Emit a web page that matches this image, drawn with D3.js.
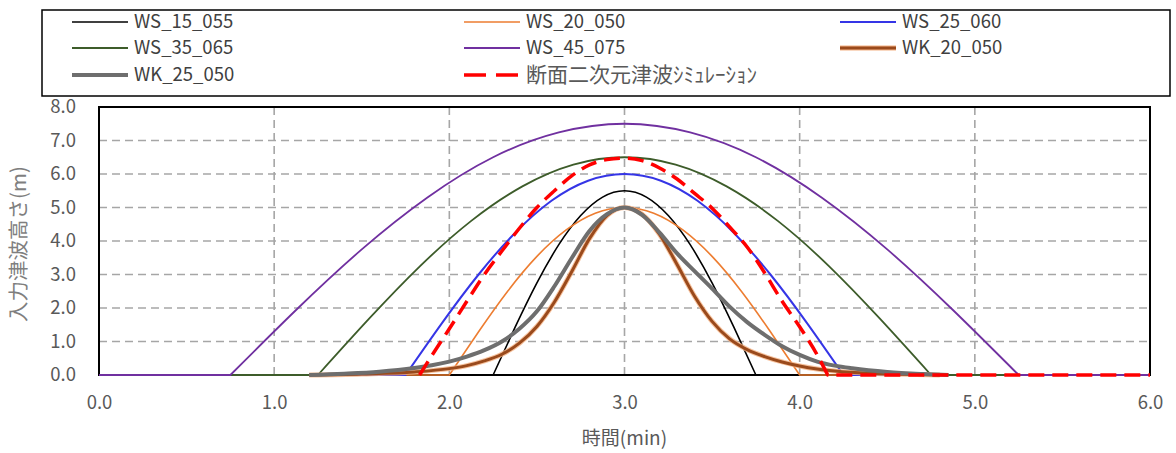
<!DOCTYPE html>
<html><head><meta charset="utf-8">
<script src="https://cdn.jsdelivr.net/npm/d3@7"></script>
<style>body{margin:0;background:#fff} svg{display:block}</style>
</head><body><svg id="c" width="1176" height="453"></svg>
<script>
// ---------- data ----------
const xTicks = [0, 1, 2, 3, 4, 5, 6];
const yTicks = [0, 1, 2, 3, 4, 5, 6, 7, 8];
const xTitle = "時間(min)";
const yTitle = "入力津波高さ(m)";
const seriesNames = ["WS_15_055", "WS_20_050", "WS_25_060", "WS_35_065", "WS_45_075", "WK_20_050", "WK_25_050", "断面二次元津波ｼﾐｭﾚｰｼｮﾝ"];

const ws15Time = [0, 2.25, 2.375, 2.5, 2.625, 2.75, 2.875, 3.0, 3.125, 3.25, 3.375, 3.5, 3.625, 3.75, 6.0];
const ws15Val  = [0, 0, 1.42, 2.75, 3.89, 4.76, 5.31, 5.5, 5.31, 4.76, 3.89, 2.75, 1.42, 0, 0];

const ws20Time = [0, 2.0, 2.167, 2.333, 2.5, 2.667, 2.833, 3.0, 3.167, 3.333, 3.5, 3.667, 3.833, 4.0, 6.0];
const ws20Val  = [0, 0, 1.29, 2.5, 3.54, 4.33, 4.83, 5.0, 4.83, 4.33, 3.54, 2.5, 1.29, 0, 0];

const ws25Time = [0, 1.75, 1.958, 2.167, 2.375, 2.583, 2.792, 3.0, 3.208, 3.417, 3.625, 3.833, 4.042, 4.25, 6.0];
const ws25Val  = [0, 0, 1.55, 3.0, 4.24, 5.2, 5.8, 6.0, 5.8, 5.2, 4.24, 3.0, 1.55, 0, 0];

const ws35Time = [0, 1.25, 1.542, 1.833, 2.125, 2.417, 2.708, 3.0, 3.292, 3.583, 3.875, 4.167, 4.458, 4.75, 6.0];
const ws35Val  = [0, 0, 1.68, 3.25, 4.6, 5.63, 6.28, 6.5, 6.28, 5.63, 4.6, 3.25, 1.68, 0, 0];

const ws45Time = [0, 0.75, 1.125, 1.5, 1.875, 2.25, 2.625, 3.0, 3.375, 3.75, 4.125, 4.5, 4.875, 5.25, 6.0];
const ws45Val  = [0, 0, 1.94, 3.75, 5.3, 6.5, 7.24, 7.5, 7.24, 6.5, 5.3, 3.75, 1.94, 0, 0];

const wk20Time = [1.2, 1.5, 1.8, 2.0, 2.1, 2.2, 2.3, 2.4, 2.5, 2.6, 2.7, 2.8, 2.9, 3.0, 3.1, 3.2, 3.3, 3.4, 3.5, 3.6, 3.7, 3.8, 3.9, 4.0, 4.1, 4.2, 4.4, 4.6, 4.8];
const wk20Val  = [0.0, 0.03, 0.09, 0.19, 0.28, 0.42, 0.62, 0.95, 1.45, 2.18, 3.1, 4.07, 4.76, 5.0, 4.8, 4.2, 3.3, 2.35, 1.6, 1.08, 0.76, 0.55, 0.39, 0.27, 0.18, 0.12, 0.05, 0.02, 0.0];

const wk25Time = [1.2, 1.4, 1.6, 1.8, 1.9, 2.0, 2.1, 2.2, 2.3, 2.4, 2.5, 2.6, 2.7, 2.8, 2.9, 3.0, 3.1, 3.2, 3.3, 3.4, 3.5, 3.6, 3.7, 3.8, 3.9, 4.0, 4.1, 4.2, 4.3, 4.5, 4.7, 4.85];
const wk25Val  = [0.0, 0.04, 0.1, 0.21, 0.29, 0.4, 0.55, 0.74, 1.0, 1.38, 1.9, 2.65, 3.5, 4.3, 4.8, 5.0, 4.78, 4.25, 3.63, 3.1, 2.58, 2.04, 1.58, 1.2, 0.86, 0.6, 0.4, 0.28, 0.2, 0.09, 0.03, 0.0];

const simTime = [1.83, 1.9, 2.0, 2.1, 2.2, 2.3, 2.4, 2.5, 2.6, 2.7, 2.8, 2.9, 3.0, 3.1, 3.2, 3.3, 3.4, 3.5, 3.6, 3.7, 3.8, 3.9, 4.0, 4.1, 4.16, 6.0];
const simVal  = [0, 0.58, 1.38, 2.2, 3.0, 3.7, 4.38, 5.0, 5.5, 5.95, 6.27, 6.43, 6.47, 6.4, 6.18, 5.85, 5.42, 4.98, 4.42, 3.82, 3.05, 2.2, 1.44, 0.6, 0, 0];

// ---------- setup ----------
const FONT = "'Noto Sans CJK JP','Open Sans',sans-serif";
const svg = d3.select("#c");
const x = d3.scaleLinear().domain([0, 6]).range([99, 1150]);
const y = d3.scaleLinear().domain([0, 8]).range([375, 107]);

const series = [
  {name: seriesNames[0], t: ws15Time, v: ws15Val, color: "#000000", w: 1.6, curve: d3.curveNatural},
  {name: seriesNames[1], t: ws20Time, v: ws20Val, color: "#ED7D31", w: 1.6, curve: d3.curveNatural},
  {name: seriesNames[2], t: ws25Time, v: ws25Val, color: "#3535E6", w: 2, curve: d3.curveNatural},
  {name: seriesNames[3], t: ws35Time, v: ws35Val, color: "#3D5C2A", w: 1.8, curve: d3.curveNatural},
  {name: seriesNames[4], t: ws45Time, v: ws45Val, color: "#7030A0", w: 1.8, curve: d3.curveNatural},
  {name: seriesNames[5], t: wk20Time, v: wk20Val, color: "#9A4A1C", w: 3, curve: d3.curveMonotoneX, halo: "#F4B183"},
  {name: seriesNames[6], t: wk25Time, v: wk25Val, color: "#6E6E6E", w: 4, curve: d3.curveMonotoneX},
  {name: seriesNames[7], t: simTime, v: simVal, color: "#FF0000", w: 3.5, curve: d3.curveMonotoneX, dash: "16,8"}
];

// ---------- grid ----------
const grid = svg.append("g");
grid.selectAll("line.h").data(yTicks.filter(d => d > 0 && d < 8)).join("line")
  .attr("x1", x(0)).attr("x2", x(6)).attr("y1", d => y(d)).attr("y2", d => y(d))
  .attr("stroke", "#A6A6A6").attr("stroke-width", 1.6).attr("stroke-dasharray", "8,5");
grid.selectAll("line.v").data(xTicks.filter(d => d > 0 && d < 6)).join("line")
  .attr("x1", d => x(d)).attr("x2", d => x(d)).attr("y1", y(8)).attr("y2", y(0))
  .attr("stroke", "#A6A6A6").attr("stroke-width", 1.6).attr("stroke-dasharray", "8,5");

// frame
svg.append("rect").attr("x", x(0)).attr("y", y(8)).attr("width", x(6) - x(0)).attr("height", y(0) - y(8))
  .attr("fill", "none").attr("stroke", "#000").attr("stroke-width", 2);

// ---------- axes ----------
const yAxis = svg.append("g").attr("transform", `translate(${x(0)},0)`)
  .call(d3.axisLeft(y).tickValues(yTicks).tickFormat(d3.format(".1f")).tickSize(0).tickPadding(23));
const xAxis = svg.append("g").attr("transform", `translate(0,${y(0)})`)
  .call(d3.axisBottom(x).tickValues(xTicks).tickFormat(d3.format(".1f")).tickSize(0).tickPadding(21));
[yAxis, xAxis].forEach(a => {
  a.select(".domain").remove();
  a.selectAll("text").attr("font-family", FONT).attr("font-size", 18.5).attr("fill", "#595959");
});

svg.append("text").attr("x", x(3)).attr("y", 445).attr("text-anchor", "middle")
  .attr("font-family", FONT).attr("font-size", 19).attr("fill", "#595959").text(xTitle);
svg.append("text").attr("transform", "translate(26,244) rotate(-90)").attr("text-anchor", "middle")
  .attr("font-family", FONT).attr("font-size", 20.5).attr("fill", "#7F7F7F").text(yTitle);

// ---------- series ----------
function buildPath(times, vals, curve) {
  const pts = times.map((t, i) => [x(t), y(vals[i])]);
  const first = vals.findIndex(v => v > 0);
  const last = vals.length - 1 - [...vals].reverse().findIndex(v => v > 0);
  const s = Math.max(0, first - 1), e = Math.min(vals.length - 1, last + 1);
  const lin = d3.line();
  const cur = d3.line().curve(curve);
  let d = "";
  if (s > 0) d += lin(pts.slice(0, s + 1));
  const mid = cur(pts.slice(s, e + 1));
  d += d ? "L" + mid.slice(1) : mid;
  if (e < pts.length - 1) d += "L" + lin(pts.slice(e)).slice(1);
  return d;
}

const plot = svg.append("g");
series.forEach(s => {
  const d = buildPath(s.t, s.v, s.curve);
  if (s.halo) plot.append("path").attr("d", d).attr("fill", "none").attr("stroke", s.halo)
    .attr("stroke-width", s.w + 2).attr("stroke-opacity", 0.8).attr("stroke-linejoin", "round");
  plot.append("path").attr("d", d).attr("fill", "none").attr("stroke", s.color)
    .attr("stroke-width", s.w).attr("stroke-linejoin", "round")
    .attr("stroke-dasharray", s.dash || null);
});

// ---------- legend ----------
svg.append("rect").attr("x", 42).attr("y", 10).attr("width", 1128).attr("height", 86)
  .attr("fill", "#fff").attr("stroke", "#000").attr("stroke-width", 1.5);
const colX = [72, 464, 840];
const rowY = [22, 48, 75];
series.forEach((s, i) => {
  const cx = colX[i % 3], cy = rowY[Math.floor(i / 3)];
  if (s.halo) svg.append("line").attr("x1", cx).attr("x2", cx + 56).attr("y1", cy).attr("y2", cy)
    .attr("stroke", s.halo).attr("stroke-width", s.w + 2);
  svg.append("line").attr("x1", cx).attr("x2", cx + 56).attr("y1", cy).attr("y2", cy)
    .attr("stroke", s.color).attr("stroke-width", s.w).attr("stroke-dasharray", s.dash ? "22,10" : null);
  svg.append("text").attr("x", cx + 62).attr("y", cy).attr("dy", "0.35em")
    .attr("font-family", FONT).attr("font-size", s.dash ? 21 : 18.5).attr("fill", s.dash ? "#595959" : "#404040")
    .text(s.name);
});
</script>
</body></html>
